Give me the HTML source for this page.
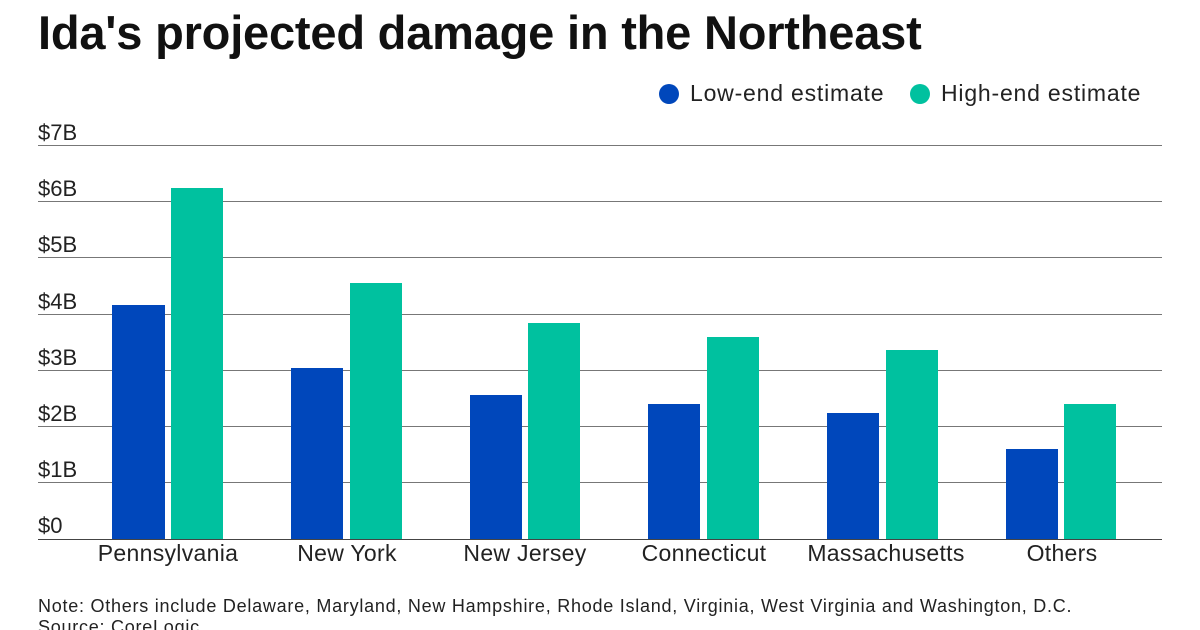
<!DOCTYPE html>
<html><head><meta charset="utf-8"><style>
body{margin:0;width:1200px;height:630px;overflow:hidden;background:#fff;font-family:"Liberation Sans",sans-serif;color:#111}
.abs{position:absolute;white-space:nowrap}
</style></head><body>
<div class="abs" style="left:38px;top:5px;font-size:47px;font-weight:bold;letter-spacing:-0.2px">Ida's projected damage in the Northeast</div>
<div class="abs" style="left:659px;top:84px;width:20px;height:20px;border-radius:50%;background:#0047BB"></div>
<div class="abs" style="left:690px;top:80px;font-size:23px;letter-spacing:0.8px;color:#222">Low-end estimate</div>
<div class="abs" style="left:910px;top:84px;width:20px;height:20px;border-radius:50%;background:#00C19F"></div>
<div class="abs" style="left:941px;top:80px;font-size:23px;letter-spacing:0.8px;color:#222">High-end estimate</div>
<svg class="abs" style="left:0;top:0" width="1200" height="630">
<g stroke="#777" stroke-width="1">
<line x1="38" x2="1162" y1="145.5" y2="145.5"/><line x1="38" x2="1162" y1="201.5" y2="201.5"/>
<line x1="38" x2="1162" y1="257.5" y2="257.5"/><line x1="38" x2="1162" y1="314.5" y2="314.5"/>
<line x1="38" x2="1162" y1="370.5" y2="370.5"/><line x1="38" x2="1162" y1="426.5" y2="426.5"/>
<line x1="38" x2="1162" y1="482.5" y2="482.5"/><line x1="38" x2="1162" y1="539.5" y2="539.5" stroke="#444"/>
</g>
<g font-family="Liberation Sans" font-size="22" fill="#222">
<text x="38" y="140">$7B</text><text x="38" y="196">$6B</text><text x="38" y="252">$5B</text>
<text x="38" y="309">$4B</text><text x="38" y="365">$3B</text><text x="38" y="421">$2B</text>
<text x="38" y="477">$1B</text><text x="38" y="533">$0</text>
</g>
<g fill="#0047BB">
<rect x="112" y="305" width="53" height="234"/><rect x="291" y="368" width="52" height="171"/>
<rect x="470" y="395" width="52" height="144"/><rect x="648" y="404" width="52" height="135"/>
<rect x="827" y="413" width="52" height="126"/><rect x="1006" y="449" width="52" height="90"/>
</g>
<g fill="#00C19F">
<rect x="171" y="188" width="52" height="351"/><rect x="350" y="283" width="52" height="256"/>
<rect x="528" y="323" width="52" height="216"/><rect x="707" y="337" width="52" height="202"/>
<rect x="886" y="350" width="52" height="189"/><rect x="1064" y="404" width="52" height="135"/>
</g>
<g font-family="Liberation Sans" font-size="23" fill="#222" text-anchor="middle" letter-spacing="0.3">
<text x="168" y="561">Pennsylvania</text><text x="347" y="561">New York</text>
<text x="525" y="561">New Jersey</text><text x="704" y="561">Connecticut</text>
<text x="886" y="561">Massachusetts</text><text x="1062" y="561">Others</text>
</g>
<g font-family="Liberation Sans" font-size="18" fill="#222" letter-spacing="0.75">
<text x="38" y="612">Note: Others include Delaware, Maryland, New Hampshire, Rhode Island, Virginia, West Virginia and Washington, D.C.</text>
<text x="38" y="633">Source: CoreLogic</text>
</g>
</svg>
</body></html>
